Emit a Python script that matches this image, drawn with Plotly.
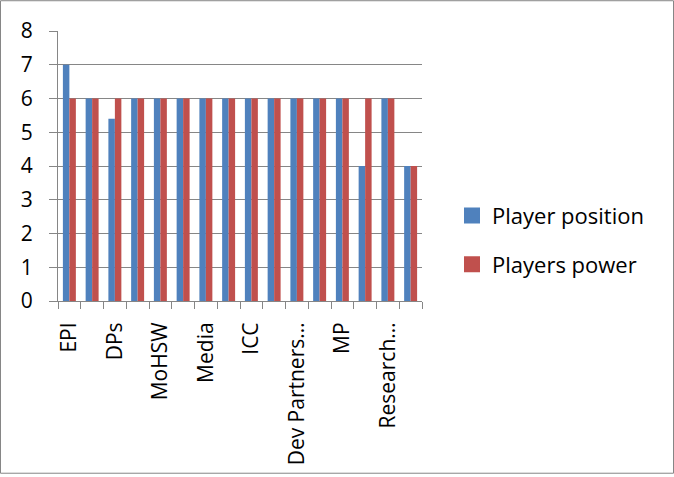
import plotly.graph_objects as go

categories = ["EPI", "", "DPs", "", "MoHSW", "", "Media", "", "ICC", "",
              "Dev Partners…", "", "MP", "", "Research…", ""]
player_position = [7, 6, 5.4, 6, 6, 6, 6, 6, 6, 6, 6, 6, 6, 4, 6, 4]
players_power = [6, 6, 6, 6, 6, 6, 6, 6, 6, 6, 6, 6, 6, 6, 6, 4]
series_names = ["Player position", "Players power"]
series_colors = ["#4F81BD", "#C0504D"]
y_ticks = [0, 1, 2, 3, 4, 5, 6, 7, 8]

W, H = 674, 477
L, R, T, B = 58, 422, 31, 303

xs = list(range(len(categories)))
label_idx = [i for i, c in enumerate(categories) if c]

fig = go.Figure()
for name, vals, color, grp in zip(series_names, [player_position, players_power],
                                  series_colors, ["a", "b"]):
    fig.add_trace(go.Bar(x=xs, y=vals, name=name, legendgroup=grp, showlegend=False,
                         marker=dict(color=color, line=dict(width=0))))
    # legend-only entry with a larger square swatch
    fig.add_trace(go.Scatter(x=[None], y=[None], mode="markers", name=name,
                             legendgroup=grp, showlegend=True,
                             marker=dict(symbol="square", size=16, color=color,
                                         line=dict(width=0))))

font_family = "Open Sans, Liberation Sans, sans-serif"

def px_to_paper_x(px):
    return (px - L) / (R - L)

def px_to_paper_y(py):
    return (B - py) / (B - T)

fig.update_layout(
    width=W, height=H,
    margin=dict(l=L, r=W - R, t=T, b=H - B, pad=0),
    paper_bgcolor="white", plot_bgcolor="white",
    barmode="group", bargap=0.43, bargroupgap=0,
    font=dict(family=font_family, size=21, color="black"),
    showlegend=True,
    legend=dict(x=px_to_paper_x(452), y=px_to_paper_y(196), xanchor="left", yanchor="top",
                font=dict(size=22, family=font_family), itemwidth=30,
                traceorder="grouped", tracegroupgap=17,
                bgcolor="rgba(0,0,0,0)", itemsizing="trace"),
    xaxis=dict(
        range=[-0.5, len(categories) - 0.5],
        tickmode="array", tickvals=label_idx,
        ticktext=[categories[i] for i in label_idx],
        tickangle=-90, ticks="", showgrid=False, zeroline=False,
        showline=True, linecolor="#868686", linewidth=1,
        tickfont=dict(size=21, family=font_family),
        ticklabelstandoff=12,
        minor=dict(tickmode="linear", tick0=-0.5, dtick=1, ticks="outside",
                   ticklen=7, tickcolor="#868686", tickwidth=1, showgrid=False),
    ),
    yaxis=dict(
        range=[0, 8], tickmode="array", tickvals=y_ticks,
        showgrid=True, gridcolor="#868686", gridwidth=1,
        zeroline=False, showline=True, linecolor="#868686", linewidth=1,
        ticks="outside", ticklen=8, tickcolor="#868686",
        tickfont=dict(size=21, family=font_family),
        ticklabelstandoff=12,
    ),
    shapes=[dict(type="rect", xref="paper", yref="paper",
                 x0=px_to_paper_x(0.5), x1=px_to_paper_x(W - 0.5),
                 y0=px_to_paper_y(H - 0.5), y1=px_to_paper_y(0.5),
                 line=dict(color="#868686", width=1), fillcolor="rgba(0,0,0,0)",
                 layer="below")],
)

fig.write_html("out.html")
